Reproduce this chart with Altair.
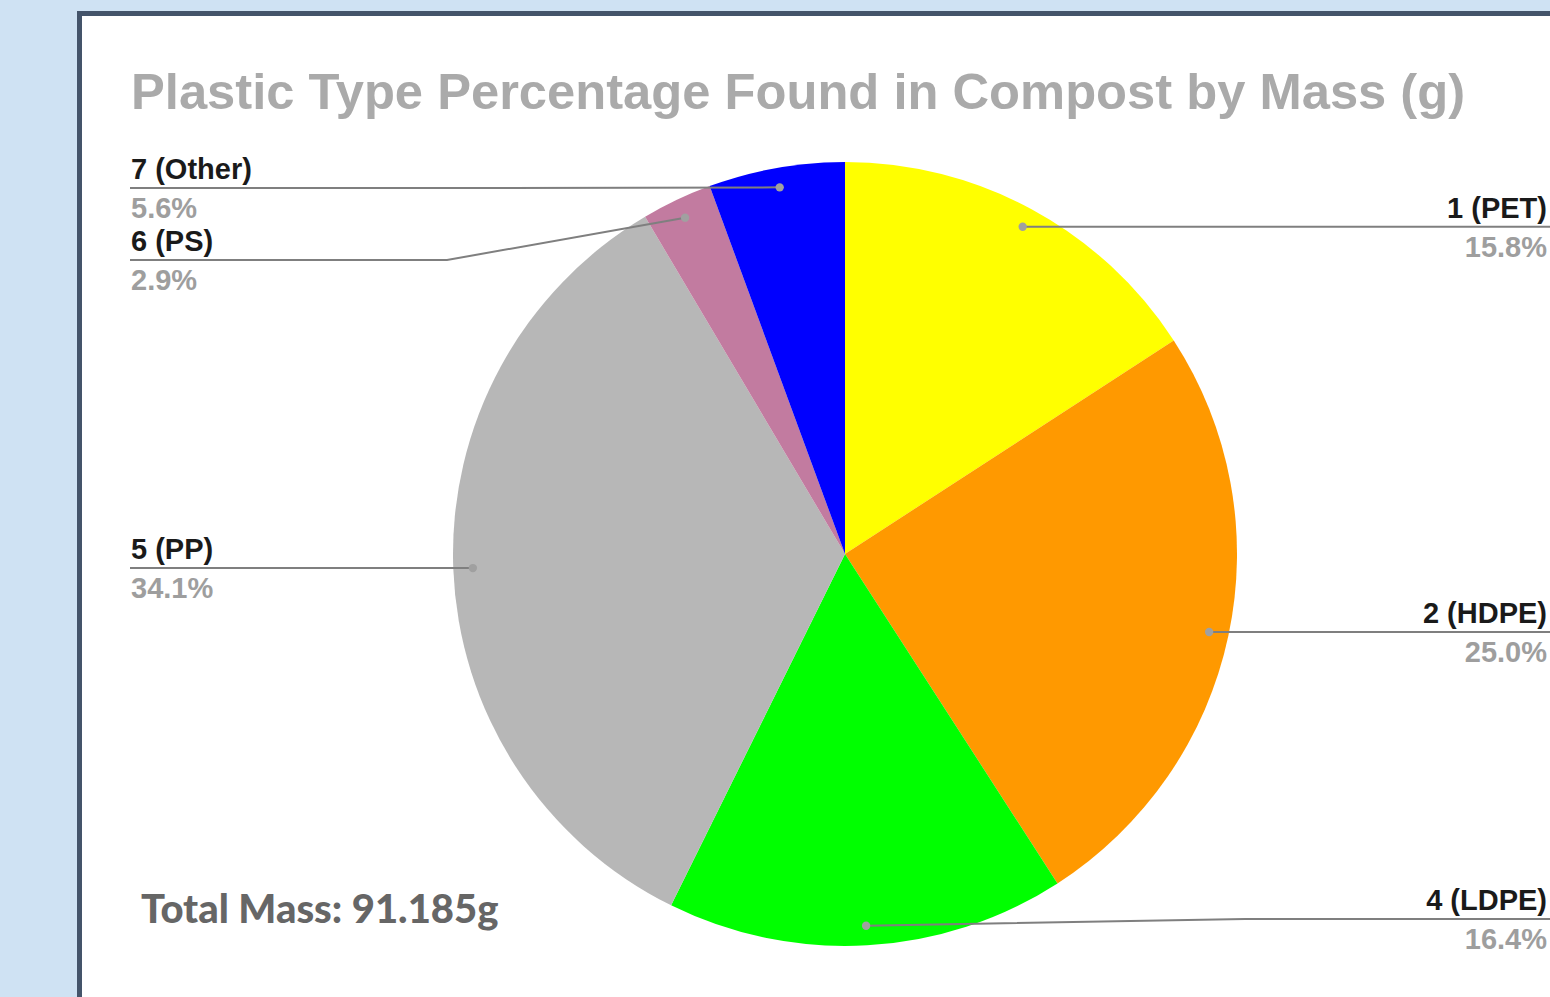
import altair as alt
import numpy as np
import pandas as pd

# Plastic types found in compost, share of total mass (%)
names = ["1 (PET)", "2 (HDPE)", "4 (LDPE)", "5 (PP)", "6 (PS)", "7 (Other)"]
percent = [15.8, 25.0, 16.4, 34.1, 2.9, 5.6]
colors = ["#ffff00", "#ff9900", "#00ff00", "#b7b7b7", "#c27ba0", "#0000ff"]
total_mass = "Total Mass: 91.185g"
title_text = "Plastic Type Percentage Found in Compost by Mass (g)"

# Page layout in pixels
W, H = 1550, 997
PX, PY = 77, 11            # top-left corner of the white panel
CX, CY, R = 845, 554, 392  # pie centre and radius
DOT_R = 0.95 * R           # leader-line anchor radius
label_side = ["right", "right", "right", "left", "left", "left"]
label_y = [None, None, 919, None, 260, 188]   # None: line runs level with its dot
elbow_x = [None, None, 1245, None, 447, 447]
LEFT_X, RIGHT_X = 131, 1547

# Slice geometry derived from the values (clockwise from 12 o'clock)
vals = np.array(percent)
frac = vals / vals.sum()
mid = (np.cumsum(frac) - frac / 2) * 2 * np.pi
dot_x = CX + DOT_R * np.sin(mid)
dot_y = CY - DOT_R * np.cos(mid)

pie_df = pd.DataFrame({"name": names, "value": percent, "order": range(len(names))})
dots_df = pd.DataFrame({"name": names, "x": dot_x, "y": dot_y})

seg_rows, lab_rows = [], []
for i, n in enumerate(names):
    ly = dot_y[i] if label_y[i] is None else label_y[i]
    end_x = LEFT_X - 1 if label_side[i] == "left" else W
    pts = [(end_x, ly)]
    if elbow_x[i] is not None:
        pts.append((elbow_x[i], ly))
    pts.append((dot_x[i], dot_y[i]))
    for k, (px, py) in enumerate(pts):
        seg_rows.append({"name": n, "k": k, "x": px, "y": py})
    lab_rows.append({
        "name": n, "pct": f"{percent[i]:.1f}%", "side": label_side[i],
        "x": LEFT_X if label_side[i] == "left" else RIGHT_X,
        "y_name": ly - 9, "y_pct": ly + 30,
    })
seg_df = pd.DataFrame(seg_rows)
lab_df = pd.DataFrame(lab_rows)

xs = alt.Scale(domain=[PX, W], nice=False, zero=False)
ys = alt.Scale(domain=[H, PY], nice=False, zero=False)
X = lambda f="x": alt.X(f"{f}:Q", scale=xs, axis=None)
Y = lambda f="y": alt.Y(f"{f}:Q", scale=ys, axis=None)

VW, VH = W - PX, H - PY

border_left = alt.Chart(pd.DataFrame({"a": [0]})).mark_rule(
    color="#44546a", strokeWidth=5
).encode(x=alt.value(2.5), y=alt.value(0), y2=alt.value(VH))
border_top = alt.Chart(pd.DataFrame({"a": [0]})).mark_rule(
    color="#44546a", strokeWidth=5
).encode(x=alt.value(0), x2=alt.value(VW), y=alt.value(2.5))

pie = alt.Chart(pie_df).mark_arc(radius=R).encode(
    theta=alt.Theta("value:Q", stack=True),
    order=alt.Order("order:Q", sort="ascending"),
    color=alt.Color("name:N", scale=alt.Scale(domain=names, range=colors), legend=None),
    x=alt.value(CX - PX),
    y=alt.value(CY - PY),
)

lines = alt.Chart(seg_df).mark_line(color="#7f7f7f", strokeWidth=2).encode(
    x=X(), y=Y(), detail="name:N", order="k:Q"
)
dots = alt.Chart(dots_df).mark_circle(color="#a0a0a0", size=70, opacity=1).encode(x=X(), y=Y())

font = "Liberation Sans, Arial, sans-serif"
text_layers = []
for side, align in [("left", "left"), ("right", "right")]:
    sub = lab_df[lab_df["side"] == side]
    text_layers.append(
        alt.Chart(sub).mark_text(align=align, baseline="alphabetic", font=font,
                                 fontSize=29, fontWeight="bold", color="#1a1a1a")
        .encode(x=X(), y=Y("y_name"), text="name:N")
    )
    text_layers.append(
        alt.Chart(sub).mark_text(align=align, baseline="alphabetic", font=font,
                                 fontSize=29, fontWeight="bold", color="#9e9e9e")
        .encode(x=X(), y=Y("y_pct"), text="pct:N")
    )

title = alt.Chart(pd.DataFrame({"t": [title_text], "x": [LEFT_X], "y": [109]})).mark_text(
    align="left", baseline="alphabetic", font=font, fontSize=50.7, fontWeight="bold", color="#aaaaaa"
).encode(x=X(), y=Y(), text="t:N")

total = alt.Chart(pd.DataFrame({"t": [total_mass], "x": [141], "y": [923]})).mark_text(
    align="left", baseline="alphabetic", font="Lato, sans-serif",
    fontSize=40, fontWeight=900, color="#666666"
).encode(x=X(), y=Y(), text="t:N")

chart = alt.layer(
    pie, lines, dots, *text_layers, title, total, border_left, border_top
).properties(
    width=VW, height=VH,
    autosize=alt.AutoSizeParams(type="none"),
    padding={"left": PX, "top": PY, "right": 0, "bottom": 0},
).configure(background="#cfe2f3").configure_view(fill="white", strokeWidth=0)

chart.save("out.html", embed_options={"renderer": "svg", "actions": False})
